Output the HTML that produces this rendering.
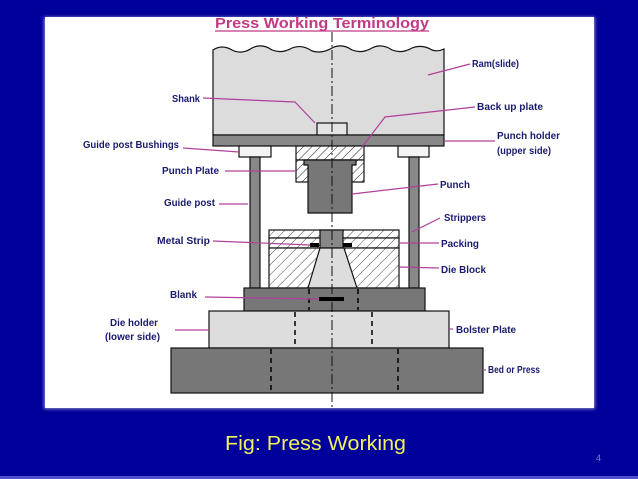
<!DOCTYPE html>
<html><head><meta charset="utf-8"><style>
html,body{margin:0;padding:0;background:#00009a;}
svg{display:block}
</style></head><body>
<svg width="638" height="479" viewBox="0 0 638 479" xmlns="http://www.w3.org/2000/svg">
<defs>
<pattern id="h" patternUnits="userSpaceOnUse" width="6" height="6" patternTransform="rotate(45)">
<rect width="6" height="6" fill="#fff"/><line x1="0" y1="0" x2="0" y2="6" stroke="#222" stroke-width="1"/></pattern>
<pattern id="h2" patternUnits="userSpaceOnUse" width="7" height="7" patternTransform="rotate(45)">
<rect width="7" height="7" fill="#fff"/><line x1="0" y1="0" x2="0" y2="7" stroke="#333" stroke-width="0.9"/></pattern>
<filter id="sh"><feGaussianBlur stdDeviation="1.5"/></filter>
</defs>
<rect width="638" height="479" fill="#00009a"/>
<rect x="44" y="17" width="551" height="392" fill="#8888cc" filter="url(#sh)"/>
<rect x="45" y="17" width="549" height="391" fill="#fff"/>
<rect x="0" y="476" width="638" height="3" fill="#5050d0"/>

<text x="322" y="28" text-anchor="middle" font-family="Liberation Sans, sans-serif" font-weight="bold" font-size="15" fill="#c03a84" textLength="214" lengthAdjust="spacingAndGlyphs">Press Working Terminology</text>
<line x1="215" y1="31" x2="429" y2="31" stroke="#c03a84" stroke-width="1.3"/>

<g stroke="#111" stroke-width="1.2">
<path d="M213 135 L213 50 Q222 44 232 50 Q242 55 252 48 Q262 43 272 50 Q282 54 292 48 Q302 44 312 51 Q322 54 332 48 Q342 43 352 50 Q362 54 372 48 Q382 43 392 50 Q402 54 412 48 Q422 44 432 50 Q438 52 444 49 L444 135 Z" fill="#dcdcdc"/>
<rect x="317" y="123" width="30" height="12" fill="#e4e4e4"/>
<rect x="213" y="135" width="231" height="11" fill="#888"/>
<rect x="239" y="146" width="32" height="11" fill="#f4f4f4"/>
<rect x="398" y="146" width="31" height="11" fill="#f4f4f4"/>
<rect x="250" y="157" width="10" height="131" fill="#888"/>
<rect x="409" y="157" width="10" height="131" fill="#888"/>
<rect x="296" y="146" width="68" height="14" fill="url(#h)"/>
<rect x="296" y="160" width="68" height="22" fill="url(#h)"/>
<path d="M304 160 H356 V165 H352 V213 H308 V165 H304 Z" fill="#777"/>
<rect x="269" y="230" width="130" height="8" fill="url(#h2)"/>
<rect x="269" y="238" width="130" height="10" fill="url(#h2)"/>
<rect x="269" y="248" width="130" height="40" fill="url(#h2)"/>
<rect x="320" y="230" width="23" height="18" fill="#888"/>
<path d="M320 248 H344 L357 288 H308 Z" fill="#ddd"/>
<rect x="244" y="288" width="181" height="23" fill="#777"/>
<rect x="209" y="311" width="240" height="37" fill="#ddd"/>
<rect x="171" y="348" width="312" height="45" fill="#777"/>
</g>
<rect x="310" y="243" width="9" height="4" fill="#000"/>
<rect x="343" y="243" width="9" height="4" fill="#000"/>
<rect x="319" y="297" width="25" height="4" fill="#000"/>
<g stroke="#000" stroke-width="1.5" stroke-dasharray="5,4">
<line x1="309" y1="289" x2="309" y2="310"/><line x1="358" y1="289" x2="358" y2="310"/>
<line x1="295" y1="312" x2="295" y2="347"/><line x1="372" y1="312" x2="372" y2="347"/>
<line x1="271" y1="349" x2="271" y2="392"/><line x1="398" y1="349" x2="398" y2="392"/>
</g>
<line x1="332" y1="32" x2="332" y2="408" stroke="#111" stroke-width="1" stroke-dasharray="10,3,2,3"/>

<g stroke="#b0409a" stroke-width="1.2" fill="none">
<polyline points="203,98 295,102 315,123"/>
<polyline points="470,64 428,75"/>
<polyline points="475,107 385,117 362,147"/>
<polyline points="495,141 444,141"/>
<polyline points="183,148 239,152"/>
<polyline points="225,171 296,171"/>
<polyline points="438,184 352,194"/>
<polyline points="219,204 248,204"/>
<polyline points="440,218 412,232"/>
<polyline points="213,241 310,245"/>
<polyline points="439,243 399,243"/>
<polyline points="439,268 399,267"/>
<polyline points="205,297 319,299"/>
<polyline points="175,330 209,330"/>
<polyline points="453,329 449,329"/>
<polyline points="483,370 486,370"/>
</g>

<g font-family="Liberation Sans, sans-serif" font-weight="bold" font-size="10.5" fill="#1a1a6e">
<text x="172" y="102" textLength="28" lengthAdjust="spacingAndGlyphs">Shank</text>
<text x="472" y="67" textLength="47" lengthAdjust="spacingAndGlyphs">Ram(slide)</text>
<text x="477" y="110" textLength="66" lengthAdjust="spacingAndGlyphs">Back up plate</text>
<text x="497" y="139" textLength="63" lengthAdjust="spacingAndGlyphs">Punch holder</text>
<text x="497" y="154" textLength="54" lengthAdjust="spacingAndGlyphs">(upper side)</text>
<text x="83" y="148" textLength="96" lengthAdjust="spacingAndGlyphs">Guide post Bushings</text>
<text x="162" y="174" textLength="57" lengthAdjust="spacingAndGlyphs">Punch Plate</text>
<text x="164" y="206" textLength="51" lengthAdjust="spacingAndGlyphs">Guide post</text>
<text x="157" y="244" textLength="53" lengthAdjust="spacingAndGlyphs">Metal Strip</text>
<text x="170" y="298" textLength="27" lengthAdjust="spacingAndGlyphs">Blank</text>
<text x="110" y="326" textLength="48" lengthAdjust="spacingAndGlyphs">Die holder</text>
<text x="105" y="340" textLength="55" lengthAdjust="spacingAndGlyphs">(lower side)</text>
<text x="440" y="188" textLength="30" lengthAdjust="spacingAndGlyphs">Punch</text>
<text x="444" y="221" textLength="42" lengthAdjust="spacingAndGlyphs">Strippers</text>
<text x="441" y="247" textLength="38" lengthAdjust="spacingAndGlyphs">Packing</text>
<text x="441" y="273" textLength="45" lengthAdjust="spacingAndGlyphs">Die Block</text>
<text x="456" y="333" textLength="60" lengthAdjust="spacingAndGlyphs">Bolster Plate</text>
<text x="488" y="373" textLength="52" lengthAdjust="spacingAndGlyphs">Bed or Press</text>
</g>

<text x="225" y="450" font-family="Liberation Sans, sans-serif" font-size="20" fill="#f0f060" textLength="181" lengthAdjust="spacingAndGlyphs">Fig: Press Working</text>
<text x="596" y="461" font-family="Liberation Sans, sans-serif" font-size="9" fill="#8080d0">4</text>
</svg>
</body></html>
